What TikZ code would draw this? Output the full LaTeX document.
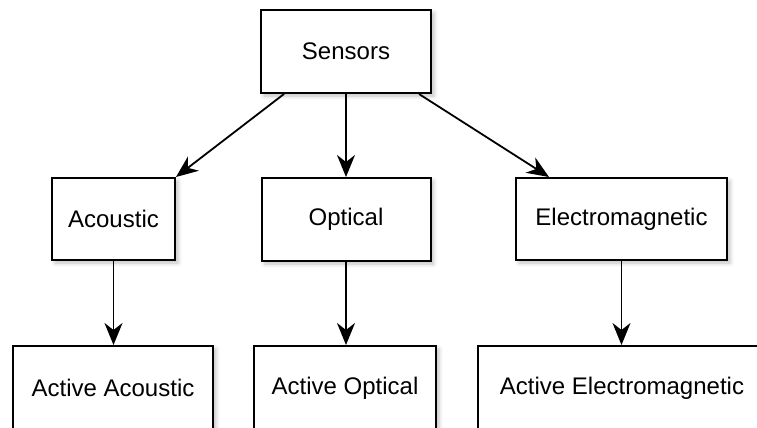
\documentclass[tikz,border=0pt]{standalone}
\usepackage{fontspec}
\setmainfont{Liberation Sans}
\usetikzlibrary{arrows.meta, shadows.blur}

\begin{document}
\begin{tikzpicture}[x=0.5pt, y=-0.5pt,
box/.style={draw, line width=1pt, fill=white, inner sep=0pt,
  blur shadow={shadow xshift=1.5pt, shadow yshift=-1.5pt, shadow blur radius=2pt, shadow opacity=25},
  font=\fontsize{12}{14}\selectfont},
link/.style={-{Stealth[length=11pt, width=9pt, inset=3.5pt]}, line width=0.9pt}]
%    frame/.style={draw}

\useasboundingbox (0,0) rectangle (757,428);
\clip (0,0) rectangle (757,428);

% top
\node[box, minimum width=85pt, minimum height=41.5pt] (sensors) at (346,51.5) {Sensors};

% middle row
\node[box, minimum width=61.5pt, minimum height=41pt] (acoustic) at (113.5,219) {Acoustic};
\node[box, minimum width=84.5pt, minimum height=41.5pt] (optical) at (346,219.5) {Optical};
\node[box, minimum width=105.5pt, minimum height=41pt] (electro) at (621.5,219) {Electromagnetic};

% bottom row (cut by the page)
\node[box, minimum width=100pt, minimum height=42pt] (actacoustic) at (113,388) {Active Acoustic};
\node[box, minimum width=91pt, minimum height=42pt] (actoptical) at (345,388) {Active Optical};
\node[box, minimum width=144pt, minimum height=42pt] (actelectro) at (622,388) {Active Electromagnetic};

\draw[link] ([xshift=12pt]sensors.south west) -- (acoustic.north east);
\draw[link] (sensors.south) -- (sensors.south |- optical.north);
\draw[link] ([xshift=-6.5pt]sensors.south east) -- ([xshift=17pt]electro.north west);

\draw[link] (acoustic.south) -- (acoustic.south |- actacoustic.north);
\draw[link] (optical.south) -- (optical.south |- actoptical.north);
\draw[link] (electro.south) -- (electro.south |- actelectro.north);

\end{tikzpicture}
\end{document}
